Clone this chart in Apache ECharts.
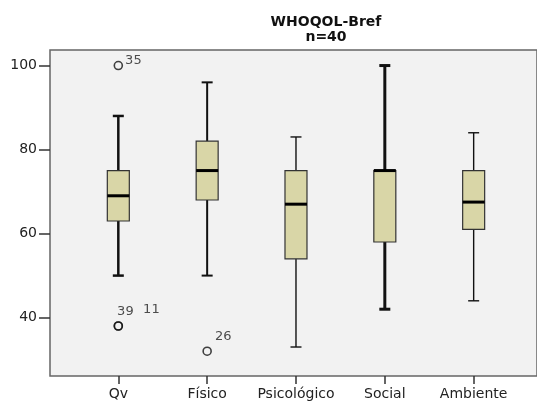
<!DOCTYPE html>
<html><head><meta charset="utf-8">
<script src="https://cdn.jsdelivr.net/npm/echarts@6/dist/echarts.min.js"></script>
<style>html,body{margin:0;padding:0;background:#fff}#c{width:537px;height:403px}</style>
</head><body><div id="c"></div>
<script>
const categories = ['Qv', 'Físico', 'Psicológico', 'Social', 'Ambiente'];
const whiskerLow = [50, 50, 33, 42, 44];
const q1 = [63, 68, 54, 58, 61];
const median = [69, 75, 67, 75, 67.5];
const q3 = [75, 82, 75, 75, 75];
const whiskerHigh = [88, 96, 83, 100, 84];
const outlierCat = [0, 0, 0, 1];
const outlierVal = [100, 38, 38, 32];
const outlierLabels = ['35', '39', '11', '26'];
const yTicks = [40, 60, 80, 100];

const whiskerWidths = [2.5, 2, 1.4, 3, 1.4];
const labelOffsets = [[2, -5], [-6, -14], [20, -16], [3, -15]];

const boxData = categories.map((c, i) => [i, whiskerLow[i], q1[i], median[i], q3[i], whiskerHigh[i]]);
const outData = outlierCat.map((c, i) => ({
  value: [c, outlierVal[i], outlierLabels[i]],
  label: { offset: labelOffsets[i] }
}));

const chart = echarts.init(document.getElementById('c'), null, { renderer: 'canvas' });
chart.setOption({
  animation: false,
  backgroundColor: '#fff',
  title: {
    text: 'WHOQOL-Bref\nn=40',
    left: 321, top: 10, textAlign: 'center',
    textStyle: { fontFamily: 'DejaVu Sans', fontSize: 14, fontWeight: 'bold', color: '#111', lineHeight: 15 }
  },
  grid: {
    left: 50, top: 50, right: -6, bottom: 27, show: true,
    backgroundColor: '#f2f2f2', borderColor: '#666', borderWidth: 1.5
  },
  xAxis: {
    type: 'value', min: -0.769, max: 4.713,
    splitLine: { show: false },
    axisLine: { show: false, onZero: false },
    axisTick: { show: true, customValues: [0, 1, 2, 3, 4], length: 8, lineStyle: { color: '#333', width: 1.5 } },
    axisLabel: {
      customValues: [0, 1, 2, 3, 4], margin: 11,
      formatter: v => categories[Math.round(v)] || '',
      fontFamily: 'DejaVu Sans', fontSize: 14, color: '#222'
    }
  },
  yAxis: {
    type: 'value', min: 26.1, max: 103.7,
    splitLine: { show: false },
    axisLine: { show: false, onZero: false },
    axisTick: { show: true, customValues: yTicks, length: 11, lineStyle: { color: '#333', width: 1.5 } },
    axisLabel: { customValues: yTicks, margin: 13, fontFamily: 'DejaVu Sans', fontSize: 14, color: '#222' }
  },
  series: [
    {
      type: 'custom',
      data: boxData,
      encode: { x: 0, y: [1, 2, 3, 4, 5] },
      renderItem: function (params, api) {
        const i = api.value(0);
        const lo = api.coord([i, api.value(1)]);
        const b1 = api.coord([i, api.value(2)]);
        const md = api.coord([i, api.value(3)]);
        const b3 = api.coord([i, api.value(4)]);
        const hi = api.coord([i, api.value(5)]);
        const x = lo[0];
        const bw = 22, cw = 11;
        const ww = whiskerWidths[params.dataIndex];
        const wStyle = { stroke: '#111', lineWidth: ww };
        return {
          type: 'group',
          children: [
            { type: 'line', shape: { x1: x, y1: hi[1], x2: x, y2: b3[1] }, style: wStyle },
            { type: 'line', shape: { x1: x - cw / 2, y1: hi[1], x2: x + cw / 2, y2: hi[1] }, style: wStyle },
            { type: 'line', shape: { x1: x, y1: lo[1], x2: x, y2: b1[1] }, style: wStyle },
            { type: 'line', shape: { x1: x - cw / 2, y1: lo[1], x2: x + cw / 2, y2: lo[1] }, style: wStyle },
            { type: 'rect', shape: { x: x - bw / 2, y: b3[1], width: bw, height: b1[1] - b3[1] },
              style: { fill: '#d9d6a7', stroke: '#333', lineWidth: 1.2 } },
            { type: 'line', shape: { x1: x - bw / 2, y1: md[1], x2: x + bw / 2, y2: md[1] },
              style: { stroke: '#000', lineWidth: 3 } }
          ]
        };
      }
    },
    {
      type: 'scatter',
      data: outData,
      symbol: 'circle', symbolSize: 8,
      itemStyle: { color: 'rgba(0,0,0,0)', borderColor: '#111', borderWidth: 1.6 },
      label: {
        show: true, position: 'right', distance: 0,
        formatter: p => p.value[2],
        fontFamily: 'DejaVu Sans', fontSize: 13, color: '#222'
      }
    }
  ]
});
</script></body></html>
